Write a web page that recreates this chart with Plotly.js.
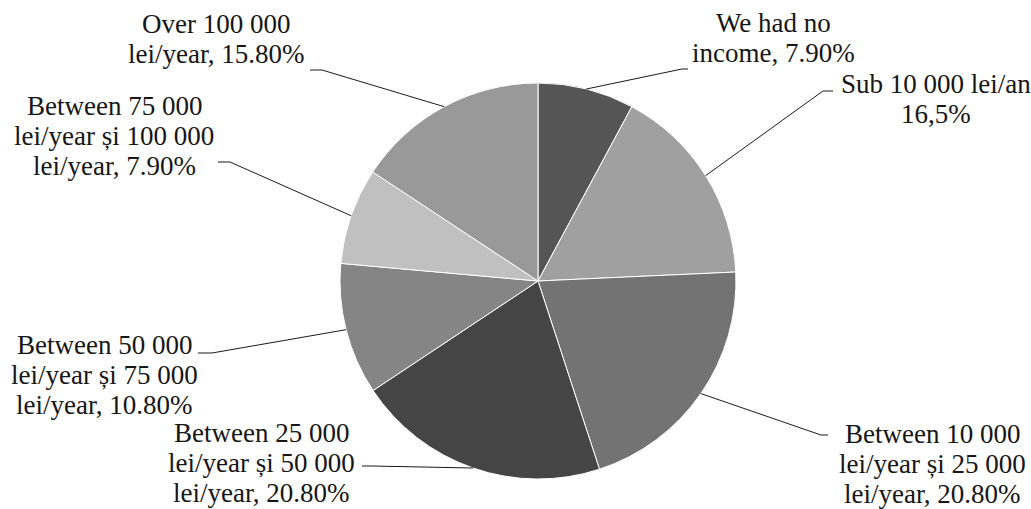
<!DOCTYPE html>
<html>
<head>
<meta charset="utf-8">
<script src="https://cdn.plot.ly/plotly-3.0.1.min.js"></script>
<style>html,body{margin:0;padding:0;background:#fff}#chart{width:1031px;height:509px}</style>
</head>
<body>
<div id="chart"></div>
<script>
// ---- data ----
var categories = [
  "We had no income",
  "Sub 10 000 lei/an",
  "Between 10 000 lei/year și 25 000 lei/year",
  "Between 25 000 lei/year și 50 000 lei/year",
  "Between 50 000 lei/year și 75 000 lei/year",
  "Between 75 000 lei/year și 100 000 lei/year",
  "Over 100 000 lei/year"
];
var values = [7.9, 16.5, 20.8, 20.8, 10.8, 7.9, 15.8];
var labelLines = [
  ["We had no", "income, 7.90%"],
  ["Sub 10 000 lei/an", "16,5%"],
  ["Between 10 000", "lei/year și 25 000", "lei/year, 20.80%"],
  ["Between 25 000", "lei/year și 50 000", "lei/year, 20.80%"],
  ["Between 50 000", "lei/year și 75 000", "lei/year, 10.80%"],
  ["Between 75 000", "lei/year și 100 000", "lei/year, 7.90%"],
  ["Over 100 000", "lei/year, 15.80%"]
];
var sliceColors = ["#555555", "#a0a0a0", "#737373", "#454545", "#858585", "#c0c0c0", "#999999"];

// ---- layout (styling / positions in pixels) ----
var W = 1031, H = 509;
var cx = 538, cy = 281, R = 198;
var FONT_SIZE = 27, LINE_GAP = 30;
// x centre and first-line y centre of each label
var labelPos = [[773, 23], [936, 84], [932, 434], [261, 433], [104, 345], [114, 106], [216, 24]];
var anchorPts = [[688, 69], [833, 91], [828, 435], [362, 466], [198, 353], [218, 162], [310, 70]];
var elbowPts  = [[682, 69], [823, 91], [821, 435], [372, 466], [212, 353], [230, 162], [322, 70]];

function px(x) { return x / W; }
function py(y) { return 1 - y / H; }

function draw() {
  var total = values.reduce(function (a, b) { return a + b; }, 0);
  var shapes = [], annotations = [];
  var cum = 0;
  for (var i = 0; i < values.length; i++) {
    var mid = (cum + values[i] / 2) / total * 2 * Math.PI;
    cum += values[i];
    var ex = cx + R * Math.sin(mid), ey = cy - R * Math.cos(mid);
    shapes.push({
      type: "path", xref: "paper", yref: "paper",
      path: "M " + px(anchorPts[i][0]) + "," + py(anchorPts[i][1]) +
            " L " + px(elbowPts[i][0]) + "," + py(elbowPts[i][1]) +
            " L " + px(ex) + "," + py(ey),
      line: { color: "#1a1a1a", width: 1 }
    });
    for (var j = 0; j < labelLines[i].length; j++) {
      annotations.push({
        text: labelLines[i][j], showarrow: false,
        xref: "paper", yref: "paper",
        x: px(labelPos[i][0]), y: py(labelPos[i][1] + j * LINE_GAP),
        xanchor: "center", yanchor: "middle", align: "center",
        font: { family: "Liberation Serif", size: FONT_SIZE, color: "#161616" }
      });
    }
  }

  var trace = {
    type: "pie",
    labels: categories,
    values: values,
    sort: false,
    direction: "clockwise",
    rotation: 0,
    textinfo: "none",
    hoverinfo: "label+percent",
    marker: { colors: sliceColors, line: { color: "#ffffff", width: 1 } },
    domain: { x: [px(cx - R), px(cx + R)], y: [py(cy + R), py(cy - R)] },
    showlegend: false
  };

  var layout = {
    width: W, height: H,
    margin: { l: 0, r: 0, t: 0, b: 0 },
    paper_bgcolor: "#ffffff",
    font: { family: "Liberation Serif", color: "#161616" },
    showlegend: false,
    shapes: shapes,
    annotations: annotations
  };

  Plotly.newPlot("chart", [trace], layout, { displayModeBar: false, staticPlot: true });
}

if (document.fonts && document.fonts.load) {
  document.fonts.load("27px 'Liberation Serif'").then(draw, draw);
} else {
  draw();
}
</script>
</body>
</html>
